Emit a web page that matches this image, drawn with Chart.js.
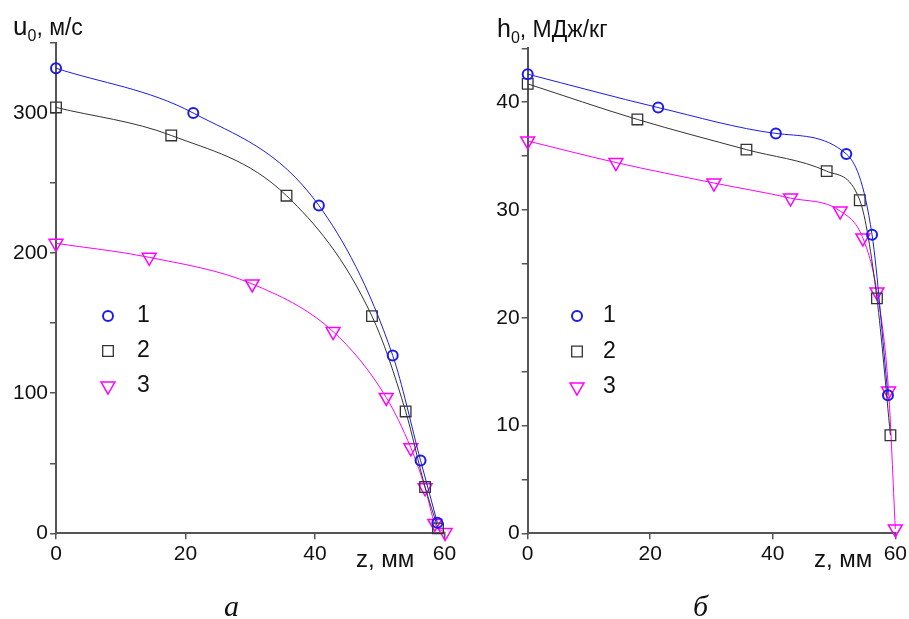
<!DOCTYPE html>
<html>
<head>
<meta charset="utf-8">
<script src="https://cdn.jsdelivr.net/npm/chart.js@4.4.1/dist/chart.umd.min.js"></script>
<style>
  body { margin: 0; background: #fff; }
  #wrap { position: relative; width: 909px; height: 619px; overflow: hidden; }
  canvas { position: absolute; top: 0; }
  .t { position: absolute; font-family: "Liberation Sans", Arial, sans-serif; color: #111; white-space: nowrap; line-height: 1; }
  .cap { position: absolute; font-family: "Liberation Serif", "Times New Roman", serif; font-style: italic; font-size: 30px; line-height: 1; color: #111; }
</style>
</head>
<body>
<div id="wrap">
  <canvas id="chart-u" width="470" height="619" style="left:0"></canvas>
  <canvas id="chart-h" width="454" height="619" style="left:455px"></canvas>

  <div class="t" style="left:13px; top:13px; font-size:23px;"><span style="font-size:26px">u</span><sub style="font-size:16px">0</sub>, м/с</div>
  <div class="t" style="left:497px; top:16px; font-size:23px;"><span style="font-size:25px">h</span><sub style="font-size:16px">0</sub>, МДж/кг</div>
  <div class="t" style="left:356px; top:547px; font-size:24px;">z, мм</div>
  <div class="t" style="left:814px; top:547px; font-size:24px;">z, мм</div>
  <div class="cap" style="left:224px; top:591px;">а</div>
  <div class="cap" style="left:693px; top:591px;">б</div>
</div>

<script>
// Значения
const xTicks = [0, 20, 40, 60];
const uTicks = [0, 100, 200, 300];
const hTicks = [0, 10, 20, 30, 40];
const legendLabels = ['1', '2', '3'];

// а) скорость u0, м/с
const u1Z = [0, 21.2, 40.6, 52.0, 56.3, 58.9];
const u1 = [332, 300, 234, 127, 52, 7.5];
const u2Z = [0, 17.8, 35.6, 48.8, 54.0, 57.0, 59.0];
const u2 = [304, 284, 241, 155, 87, 33, 3.5];
const u3Z = [0, 14.4, 30.3, 42.8, 51.0, 54.8, 57.0, 58.5, 60.1];
const u3 = [207, 197, 178, 144, 97, 61, 32.5, 7, 0.5];

// б) энтальпия h0, МДж/кг
const h1Z = [0, 21.3, 40.5, 52.0, 56.2, 58.8];
const h1 = [42.6, 39.5, 37.1, 35.2, 27.7, 12.8];
const h2Z = [0, 17.9, 35.7, 48.8, 54.2, 57.0, 59.2];
const h2 = [41.7, 38.4, 35.6, 33.6, 30.9, 21.8, 9.1];
const h3Z = [0, 14.4, 30.4, 42.9, 51.0, 54.7, 57.0, 58.9, 60.0];
const h3 = [36.4, 34.4, 32.5, 31.1, 29.9, 27.4, 22.4, 13.2, 0.4];

const FONT = '"Liberation Sans", Arial, sans-serif';
const AXIS = '#555';

const styles = [
  { color: '#1c1ce6', pointStyle: 'circle', radius: 5, rotation: 0, bw: 2 },
  { color: '#333333', pointStyle: 'rect', radius: 7.5, rotation: 0, bw: 1.3 },
  { color: '#ff00ff', pointStyle: 'triangle', radius: 8, rotation: 180, bw: 1.5 },
];

function toPoints(xs, ys) {
  return xs.map((x, i) => ({ x, y: ys[i] }));
}

function makeDataset(points, st, label) {
  return {
    label,
    data: points,
    showLine: true,
    borderColor: st.color,
    borderWidth: 1,
    cubicInterpolationMode: 'monotone',
    pointStyle: st.pointStyle,
    pointRadius: st.radius,
    pointRotation: st.rotation,
    pointBorderColor: st.color,
    pointBackgroundColor: 'rgba(0,0,0,0)',
    pointBorderWidth: st.bw,
    clip: false,
  };
}

// Легенда внутри области графика
const miniLegend = {
  id: 'miniLegend',
  afterDraw(chart, args, opts) {
    const ctx = chart.ctx;
    ctx.save();
    chart.data.datasets.forEach((ds, i) => {
      const st = styles[i];
      const y = opts.y + i * opts.dy;
      ctx.strokeStyle = st.color;
      ctx.fillStyle = 'rgba(0,0,0,0)';
      ctx.lineWidth = st.bw;
      Chart.helpers.drawPoint(ctx, {
        pointStyle: st.pointStyle, radius: st.radius, rotation: st.rotation, borderWidth: st.bw
      }, opts.x, y);
      ctx.fillStyle = '#111';
      ctx.font = '23px ' + FONT;
      ctx.textBaseline = 'middle';
      ctx.fillText(ds.label, opts.labelX, y);
    });
    ctx.restore();
  }
};

function makeChart(canvas, sets, yMax, yStep, yMajor, yWidth, pad, legendPos) {
  return new Chart(canvas, {
    type: 'scatter',
    data: {
      datasets: sets.map(([xs, ys], i) => makeDataset(toPoints(xs, ys), styles[i], legendLabels[i]))
    },
    options: {
      responsive: false,
      animation: false,
      layout: { padding: pad },
      scales: {
        x: {
          type: 'linear',
          min: xTicks[0],
          max: xTicks[xTicks.length - 1],
          afterBuildTicks: scale => { scale.ticks = xTicks.map(v => ({ value: v })); },
          afterFit: scale => { scale.height = 619 - 533.3; },
          ticks: { font: { size: 21, family: FONT }, color: '#111', padding: 2, maxRotation: 0 },
          grid: { display: true, drawOnChartArea: false, drawTicks: true, tickLength: 6, color: AXIS, lineWidth: 1.5 },
          border: { display: true, color: AXIS, width: 2 },
        },
        y: {
          type: 'linear',
          min: 0,
          max: yMax,
          afterFit: scale => { scale.width = yWidth; },
          ticks: {
            stepSize: yStep,
            autoSkip: false,
            font: { size: 21, family: FONT },
            color: '#111',
            padding: 2,
            callback: v => (yMajor.includes(v) ? v : '')
          },
          grid: { display: true, drawOnChartArea: false, drawTicks: true, tickLength: 6, color: AXIS, lineWidth: 1.5 },
          border: { display: true, color: AXIS, width: 2 },
        }
      },
      plugins: {
        legend: { display: false },
        tooltip: { enabled: false },
        miniLegend: legendPos,
      }
    },
    plugins: [miniLegend]
  });
}

makeChart(document.getElementById('chart-u'),
  [[u1Z, u1], [u2Z, u2], [u3Z, u3]],
  350, 50, uTicks, 56,
  { top: 43, right: 25.5, bottom: 0, left: 0 },
  { x: 108, y: 316, dy: 35, labelX: 137 });

makeChart(document.getElementById('chart-h'),
  [[h1Z, h1], [h2Z, h2], [h3Z, h3]],
  45, 5, hTicks, 72.7,
  { top: 48.3, right: 13.3, bottom: 0, left: 0 },
  { x: 122, y: 316, dy: 35.5, labelX: 148 });
</script>
</body>
</html>
